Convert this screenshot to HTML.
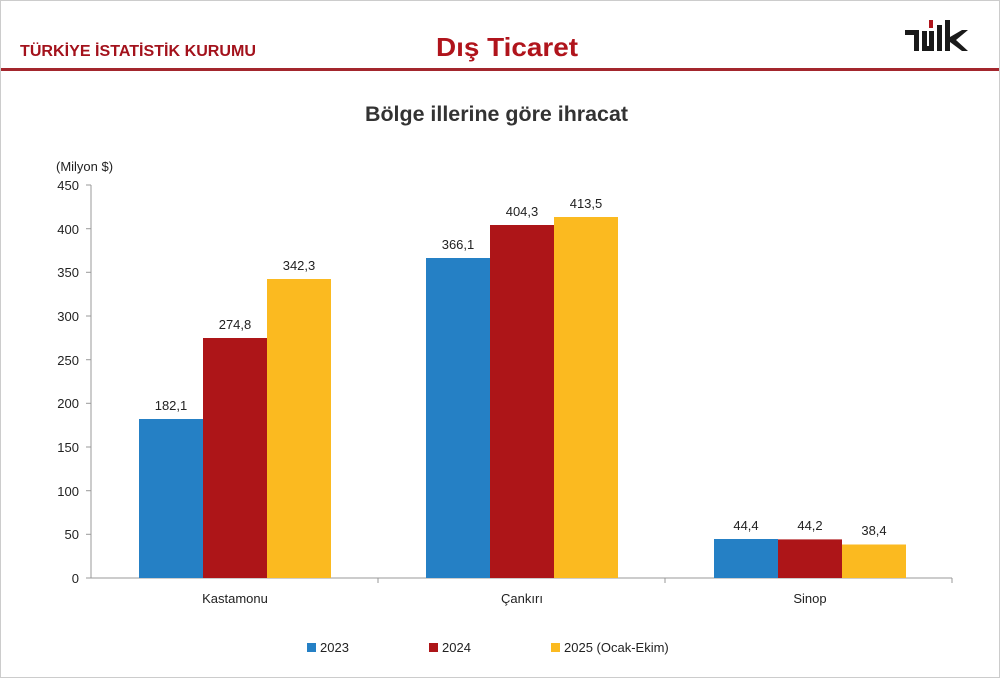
<!DOCTYPE html>
<html><head><meta charset="utf-8"><style>
body{margin:0;width:1000px;height:678px;background:#fff;overflow:hidden;font-family:"Liberation Sans",sans-serif}
</style></head><body>
<svg width="1000" height="678" xmlns="http://www.w3.org/2000/svg" font-family="Liberation Sans, sans-serif">
<text x="20" y="56" font-size="16" fill="#a3121c" font-weight="bold" textLength="236" lengthAdjust="spacingAndGlyphs">TÜRKİYE İSTATİSTİK KURUMU</text>
<text x="436" y="56" font-size="26" fill="#b0141c" font-weight="bold" textLength="142" lengthAdjust="spacingAndGlyphs">Dış Ticaret</text>
<g fill="#1a1a1a">
<rect x="905" y="30" width="14" height="5"/><rect x="914" y="30" width="5" height="21"/>
<rect x="922" y="31" width="5" height="20"/><rect x="929" y="31" width="5" height="20"/><rect x="922" y="46" width="12" height="5"/>
<rect x="937" y="25" width="5" height="26"/><rect x="945" y="20" width="5" height="31"/>
<polygon points="950,37 962,30 968,30 956,40 968,51 962,51 950,42"/>
</g>
<rect x="929" y="20" width="4" height="8" fill="#b0141c"/>
<rect x="0" y="68" width="1000" height="3" fill="#a3262d"/>
<text x="365" y="121" font-size="21" fill="#333" font-weight="bold" textLength="263" lengthAdjust="spacingAndGlyphs">Bölge illerine göre ihracat</text>
<text x="56" y="171" font-size="13" fill="#222">(Milyon $)</text>
<g stroke="#999" stroke-width="1">
<line x1="91" y1="185" x2="91" y2="578"/><line x1="91" y1="578" x2="952" y2="578"/>
<line x1="86" y1="185" x2="91" y2="185"/><line x1="86" y1="228.7" x2="91" y2="228.7"/><line x1="86" y1="272.3" x2="91" y2="272.3"/><line x1="86" y1="316" x2="91" y2="316"/><line x1="86" y1="359.7" x2="91" y2="359.7"/><line x1="86" y1="403.3" x2="91" y2="403.3"/><line x1="86" y1="447" x2="91" y2="447"/><line x1="86" y1="490.7" x2="91" y2="490.7"/><line x1="86" y1="534.3" x2="91" y2="534.3"/><line x1="86" y1="578" x2="91" y2="578"/>
<line x1="378" y1="578" x2="378" y2="583"/><line x1="665" y1="578" x2="665" y2="583"/><line x1="952" y1="578" x2="952" y2="583"/>
</g>
<g font-size="13" fill="#222" text-anchor="end">
<text x="79" y="190">450</text><text x="79" y="234">400</text><text x="79" y="277">350</text><text x="79" y="321">300</text><text x="79" y="365">250</text><text x="79" y="408">200</text><text x="79" y="452">150</text><text x="79" y="496">100</text><text x="79" y="539">50</text><text x="79" y="583">0</text>
</g>
<g>
<rect x="139" y="419" width="64" height="159" fill="#2580c5"/>
<rect x="203" y="338" width="64" height="240" fill="#ad1518"/>
<rect x="267" y="279" width="64" height="299" fill="#fbba20"/>
<rect x="426" y="258" width="64" height="320" fill="#2580c5"/>
<rect x="490" y="225" width="64" height="353" fill="#ad1518"/>
<rect x="554" y="217" width="64" height="361" fill="#fbba20"/>
<rect x="714" y="539" width="64" height="39" fill="#2580c5"/>
<rect x="778" y="539.4" width="64" height="38.6" fill="#ad1518"/>
<rect x="842" y="544.5" width="64" height="33.5" fill="#fbba20"/>
</g>
<g font-size="13" fill="#222" text-anchor="middle">
<text x="171" y="410">182,1</text><text x="235" y="329">274,8</text><text x="299" y="270">342,3</text>
<text x="458" y="249">366,1</text><text x="522" y="216">404,3</text><text x="586" y="208">413,5</text>
<text x="746" y="530">44,4</text><text x="810" y="530">44,2</text><text x="874" y="535">38,4</text>
<text x="235" y="603">Kastamonu</text><text x="522" y="603">Çankırı</text><text x="810" y="603">Sinop</text>
</g>
<g font-size="13" fill="#222">
<rect x="307" y="643" width="9" height="9" fill="#2580c5"/><text x="320" y="652">2023</text>
<rect x="429" y="643" width="9" height="9" fill="#ad1518"/><text x="442" y="652">2024</text>
<rect x="551" y="643" width="9" height="9" fill="#fbba20"/><text x="564" y="652">2025 (Ocak-Ekim)</text>
</g>
<rect x="0.5" y="0.5" width="999" height="677" fill="none" stroke="#ccc"/>
</svg>
</body></html>
